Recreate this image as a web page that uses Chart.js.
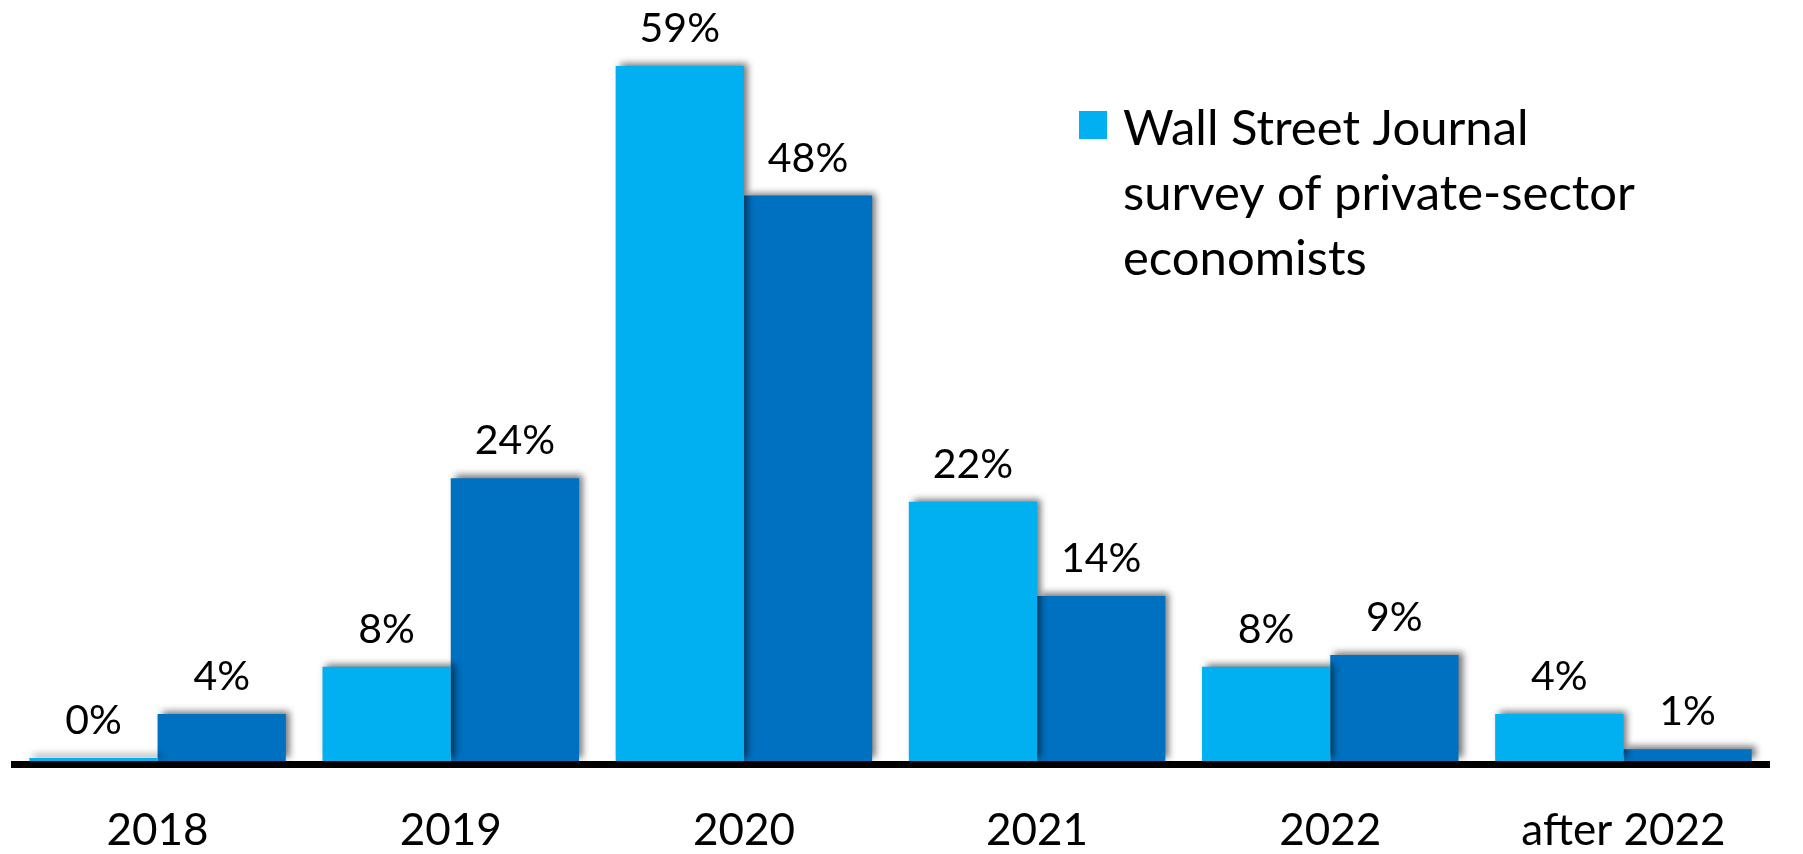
<!DOCTYPE html>
<html>
<head>
<meta charset="utf-8">
<script src="https://cdn.jsdelivr.net/npm/chart.js@4/dist/chart.umd.min.js"></script>
<style>
  html, body { margin: 0; padding: 0; background: #fff; }
  #wrap { width: 1803px; height: 854px; }
</style>
</head>
<body>
<div id="wrap"><canvas id="chart" width="1803" height="854"></canvas></div>
<script>
// chart values
const categories = ['2018', '2019', '2020', '2021', '2022', 'after 2022'];
const wsjValues = [0, 8, 59, 22, 8, 4];
const otherValues = [4, 24, 48, 14, 9, 1];
const wsjLabel = ['Wall Street Journal', 'survey of private-sector', 'economists'];
const otherLabel = 'Other survey';

const lightBlue = '#00B0F0';
const darkBlue = '#0070C0';
const fontFamily = 'Lato, "Open Sans", sans-serif';

// soft drop shadow behind each bar
const barShadow = {
  id: 'barShadow',
  beforeDatasetDraw(chart) {
    const ctx = chart.ctx;
    ctx.save();
    ctx.shadowColor = 'rgba(0,0,0,0.55)';
    ctx.shadowBlur = 7;
    ctx.shadowOffsetX = 4;
    ctx.shadowOffsetY = -3;
  },
  afterDatasetDraw(chart) {
    chart.ctx.restore();
  }
};

// thick black baseline just under the bars
const baseLine = {
  id: 'baseLine',
  afterDatasetsDraw(chart) {
    const { ctx, chartArea } = chart;
    ctx.save();
    ctx.fillStyle = '#000';
    ctx.fillRect(chartArea.left, chartArea.bottom, chartArea.right - chartArea.left, 7);
    ctx.restore();
  }
};

// percentage labels above the bars
const valueLabels = {
  id: 'valueLabels',
  afterDatasetsDraw(chart) {
    const ctx = chart.ctx;
    ctx.save();
    ctx.font = `41px ${fontFamily}`;
    ctx.fillStyle = '#000';
    ctx.textAlign = 'center';
    ctx.textBaseline = 'alphabetic';
    chart.data.datasets.forEach((ds, i) => {
      chart.getDatasetMeta(i).data.forEach((bar, j) => {
        ctx.fillText(Math.round(ds.data[j]) + '%', bar.x, bar.y - 24);
      });
    });
    ctx.restore();
  }
};

// single legend entry, three lines, top right inside the plot
const sideLegend = {
  id: 'sideLegend',
  afterDraw(chart) {
    const ctx = chart.ctx;
    const ds = chart.data.datasets[0];
    const x = 1079, y = 111;
    ctx.save();
    ctx.fillStyle = ds.backgroundColor;
    ctx.fillRect(x, y, 28, 28);
    ctx.fillStyle = '#000';
    ctx.font = `49px ${fontFamily}`;
    ctx.textAlign = 'left';
    ctx.textBaseline = 'alphabetic';
    ds.label.forEach((line, k) => {
      ctx.fillText(line, x + 44, 145 + k * 65);
    });
    ctx.restore();
  }
};

new Chart(document.getElementById('chart'), {
  type: 'bar',
  data: {
    labels: categories,
    datasets: [
      {
        label: wsjLabel,
        data: wsjValues,
        backgroundColor: lightBlue,
        minBarLength: 3
      },
      {
        label: otherLabel,
        data: otherValues,
        backgroundColor: darkBlue
      }
    ]
  },
  options: {
    responsive: false,
    animation: false,
    layout: { padding: { top: 7, left: 11, right: 33, bottom: 0 } },
    datasets: {
      bar: { categoryPercentage: 0.875, barPercentage: 1.0 }
    },
    scales: {
      x: {
        grid: { display: false, drawTicks: false },
        border: { display: false },
        ticks: {
          color: '#000',
          padding: 43,
          font: { family: fontFamily, size: 44 }
        },
        afterFit(scale) {
          scale.height = 93;
        }
      },
      y: {
        display: false,
        min: 0,
        max: 64
      }
    },
    plugins: {
      legend: { display: false },
      tooltip: { enabled: false }
    }
  },
  plugins: [barShadow, baseLine, valueLabels, sideLegend]
});
</script>
</body>
</html>
